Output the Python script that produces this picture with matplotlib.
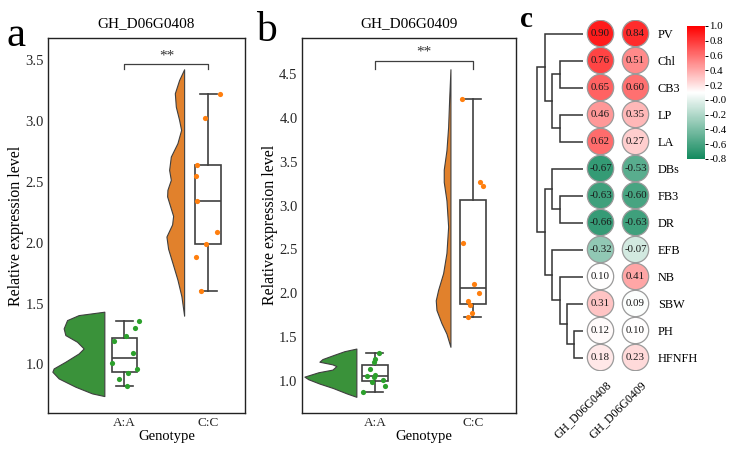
import colorsys
import matplotlib
matplotlib.use("Agg")
import matplotlib.pyplot as plt
import numpy as np
from matplotlib.colors import LinearSegmentedColormap, Normalize, to_rgb
from matplotlib.cm import ScalarMappable

plt.rcParams['font.family'] = ['Liberation Serif', 'DejaVu Serif']

W, H = 735, 450

genotypes = ['A:A', 'C:C']

# panel a : GH_D06G0408
a_AA = [1.36, 1.30, 1.23, 1.19, 1.09, 1.01, 0.96, 0.93, 0.88, 0.82]
a_AA_jit = [0.17, 0.13, 0.02, -0.13, 0.10, -0.15, 0.15, 0.04, -0.07, 0.03]
a_CC = [3.22, 3.02, 2.64, 2.55, 2.34, 2.09, 1.99, 1.88, 1.60]
a_CC_jit = [0.14, -0.04, -0.14, -0.15, -0.14, 0.10, -0.03, -0.15, -0.09]
# half-violin outlines (level, width)
a_AA_lev = [1.433, 1.405, 1.364, 1.296, 1.241, 1.186, 1.131, 1.09, 1.022, 0.967, 0.94, 0.885, 0.817, 0.762, 0.74]
a_AA_den = [0, 25.7, 37.3, 40.7, 39, 27.3, 20.7, 25.7, 39, 50.7, 52, 45.7, 29, 12.3, 0]
a_CC_lev = [3.424, 3.336, 3.227, 3.117, 3.008, 2.926, 2.817, 2.707, 2.598, 2.516, 2.434, 2.38,
            2.30, 2.22, 2.15, 2.05, 1.95, 1.834, 1.697, 1.56, 1.40]
a_CC_den = [0, 5, 9.3, 8.3, 5, 3, 6.7, 13.3, 15, 13.3, 16.7, 17, 14, 11, 12, 17.7, 16, 11.7, 6.7, 2.7, 0]

# panel b : GH_D06G0409
b_AA = [1.32, 1.25, 1.22, 1.14, 1.07, 1.06, 1.05, 1.01, 0.99, 0.94, 0.88]
b_AA_jit = [0.04, 0.0, -0.01, -0.05, 0.0, -0.085, -0.01, 0.08, -0.03, 0.10, -0.12]
b_CC = [4.215, 3.273, 3.227, 2.57, 2.106, 2.007, 1.916, 1.865, 1.77, 1.726]
b_CC_jit = [-0.115, 0.07, 0.105, -0.10, 0.01, 0.065, -0.05, -0.03, -0.01, -0.05]
b_AA_lev = [1.37, 1.34, 1.30, 1.25, 1.22, 1.19, 1.17, 1.13, 1.10, 1.05, 1.02, 0.97, 0.92, 0.86, 0.82]
b_AA_den = [0, 12, 22, 34, 37, 24, 20, 24, 38, 52, 48, 36.7, 23.3, 10, 0]
b_CC_lev = [4.554, 4.21, 3.9, 3.63, 3.41, 3.27, 3.06, 2.76, 2.46, 2.23, 2.04, 1.92, 1.81, 1.66, 1.54, 1.39]
b_CC_den = [0, 1.3, 2.3, 4, 6.7, 6.7, 4, 2.3, 4, 7.3, 12.3, 14.7, 14, 9, 4, 0]

# panel c
traits = ['PV', 'Chl', 'CB3', 'LP', 'LA', 'DBs', 'FB3', 'DR', 'EFB', 'NB', 'SBW', 'PH', 'HFNFH']
genes = ['GH_D06G0408', 'GH_D06G0409']
r_0408 = [0.90, 0.76, 0.65, 0.46, 0.62, -0.67, -0.63, -0.66, -0.32, 0.10, 0.31, 0.12, 0.18]
r_0409 = [0.84, 0.51, 0.60, 0.35, 0.27, -0.53, -0.60, -0.63, -0.07, 0.41, 0.09, 0.10, 0.23]
# row clustering: (child, child, height); leaves 0..12 follow traits
merges = [(1, 2, 2.3), (3, 4, 2.3), (13, 14, 3.1), (0, 15, 3.8),
          (6, 7, 2.3), (5, 17, 3.1), (11, 12, 0.9), (10, 19, 1.6),
          (9, 20, 2.3), (8, 21, 3.1), (18, 22, 3.8), (16, 23, 4.6)]


def px_rect(l, t, r, b):
    return [l / W, 1 - b / H, (r - l) / W, (b - t) / H]


def desat(c, p=0.75):
    h, l, s = colorsys.rgb_to_hls(*to_rgb(c))
    return colorsys.hls_to_rgb(h, l, s * p)


green, orange = '#2ca02c', '#ff7f0e'
line_c = '#3f3f3f'

fig = plt.figure(figsize=(W / 100, H / 100), dpi=100)


def rain_panel(rect, xlim, ylim, ppu, groups, title, yticks, bracket):
    ax = fig.add_axes(px_rect(*rect))
    for i, (vals, jit, lev, den, col, off) in enumerate(groups):
        lev = np.array(lev)
        edge = i + off
        ax.fill_betweenx(lev, edge - np.array(den) / ppu, edge, facecolor=desat(col),
                         edgecolor=line_c, lw=0.8, zorder=2)
        ax.scatter(i + np.array(jit), vals, s=14, color=col, lw=0, zorder=4)
    bw = 26 / ppu
    ax.boxplot([g[0] for g in groups], positions=[0, 1], widths=bw, patch_artist=True,
               capwidths=17 / ppu, showfliers=False,
               boxprops=dict(facecolor='white', edgecolor=line_c, lw=1.2),
               whiskerprops=dict(color=line_c, lw=1.2),
               capprops=dict(color=line_c, lw=1.2),
               medianprops=dict(color=line_c, lw=1.2), zorder=3)
    y1, y0 = bracket
    ax.plot([0, 0, 1, 1], [y0, y1, y1, y0], color=line_c, lw=0.9)
    ax.text(0.5, y1 + (y1 - y0) * 0.3, '**', ha='center', va='bottom', fontsize=11, color='#333333')
    ax.set_xlim(*xlim)
    ax.set_ylim(*ylim)
    ax.set_xticks([0, 1])
    ax.set_xticklabels(genotypes, fontsize=9.5, color='#262626')
    ax.set_yticks(yticks)
    ax.set_yticklabels(['%.1f' % t for t in yticks], fontsize=10.5, color='#262626')
    ax.tick_params(length=0, pad=3)
    ax.set_ylabel('Relative expression level', fontsize=11.5, labelpad=1)
    ax.set_xlabel('Genotype', fontsize=10.5, labelpad=0)
    ax.xaxis.set_label_coords((0.5 - xlim[0]) / (xlim[1] - xlim[0]), -0.045)
    ax.set_title(title, fontsize=11, pad=8)
    for s in ax.spines.values():
        s.set_linewidth(1.0)
        s.set_color('#222222')
    return ax


rain_panel((48, 38, 245, 413), (-0.911, 1.435), (0.601, 3.681), 84,
           [(a_AA, a_AA_jit, a_AA_lev, a_AA_den, green, -0.24),
            (a_CC, a_CC_jit, a_CC_lev, a_CC_den, orange, -0.29)],
           'GH_D06G0408', [1.0, 1.5, 2.0, 2.5, 3.0, 3.5], (3.47, 3.43))

rain_panel((301.7, 38, 516, 412.7), (-0.748, 1.439), (0.639, 4.91), 98,
           [(b_AA, b_AA_jit, b_AA_lev, b_AA_den, green, -0.19),
            (b_CC, b_CC_jit, b_CC_lev, b_CC_den, orange, -0.23)],
           'GH_D06G0409', [1.0, 1.5, 2.0, 2.5, 3.0, 3.5, 4.0, 4.5], (4.65, 4.56))

# panel c: dendrogram
n = len(traits)
axd = fig.add_axes(px_rect(533, 20, 583, 371))
pos = {i: (float(i), 0.0) for i in range(n)}
for k, (c1, c2, h) in enumerate(merges):
    y1, h1 = pos[c1]
    y2, h2 = pos[c2]
    axd.plot([h1, h, h, h2], [y1, y1, y2, y2], color='#333333', lw=1.1, solid_joinstyle='miter')
    pos[n + k] = ((y1 + y2) / 2, h)
axd.set_xlim(5.0, 0)
axd.set_ylim(n - 0.5, -0.5)
axd.axis('off')

# panel c: circle heatmap
cmap = LinearSegmentedColormap.from_list('gwr', ['#138a5e', 'white', '#ff0000'])
norm = Normalize(-0.8, 1.0)
axh = fig.add_axes(px_rect(583, 20, 653, 371))
for j, r in enumerate([r_0408, r_0409]):
    rows = np.arange(n)
    axh.scatter(np.full(n, j), rows, s=360, c=r, cmap=cmap, norm=norm,
                edgecolors='#9a9a9a', linewidths=0.9, zorder=2)
    for i, v in enumerate(r):
        axh.text(j, i, '%.2f' % v, ha='center', va='center', fontsize=7.8, color='#1a1a1a', zorder=3)
    axh.text(j + 0.14, n - 0.5 + 8 / 27, genes[j], rotation=45, ha='right', va='top',
             rotation_mode='anchor', fontsize=8.5)
axh.set_xlim(-0.5, 1.5)
axh.set_ylim(n - 0.5, -0.5)
axh.set_xticks([])
axh.yaxis.tick_right()
axh.set_yticks(np.arange(n))
axh.set_yticklabels(traits, fontsize=8.8)
axh.tick_params(axis='y', length=0, pad=3.6)
for s in axh.spines.values():
    s.set_visible(False)
axh.patch.set_alpha(0)

cax = fig.add_axes(px_rect(687, 26, 704.5, 159))
cb = fig.colorbar(ScalarMappable(norm=norm, cmap=cmap), cax=cax,
                  ticks=np.round(np.arange(-0.8, 1.01, 0.2), 1))
cb.outline.set_visible(False)
cb.ax.set_yticklabels(['%.1f' % t for t in np.round(np.arange(-0.8, 1.01, 0.2), 1)])
cb.ax.tick_params(length=2.5, width=0.7, labelsize=7.8, pad=1)

# panel letters
fig.text(7 / W, 1 - 46 / H, 'a', fontsize=31, va='baseline')
fig.text(256 / W, 1 - 41 / H, 'b', fontsize=30, va='baseline')
fig.text(520 / W, 1 - 27 / H, 'c', fontsize=21, fontweight='bold', va='baseline')

fig.savefig('out.png', dpi=100)
